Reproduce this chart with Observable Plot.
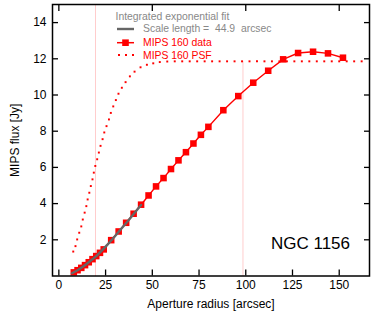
<!DOCTYPE html>
<html><head><meta charset="utf-8">
<script src="https://cdn.jsdelivr.net/npm/d3@7"></script>
<script src="https://cdn.jsdelivr.net/npm/@observablehq/plot@0.6"></script>
<style>
body{margin:0;background:#fff}
#chart svg{display:block}
</style>
</head><body><div id="chart"></div>
<script>
// MIPS 160 aperture photometry (arcsec, Jy)
const dataRadius = [8,10,12,14,16,18,20,22,24,28,32,36,40,44,48,52,56,60,64,68,72,76,80,88,96,104,112,120,128,136,144,152];
const dataFlux   = [0.20,0.32,0.45,0.60,0.76,0.93,1.10,1.28,1.47,1.98,2.46,2.94,3.44,3.94,4.45,4.95,5.41,5.91,6.39,6.84,7.32,7.80,8.24,9.16,9.94,10.68,11.34,11.97,12.32,12.39,12.30,12.06];
// Integrated exponential fit
const fitRadius = [7,10,13,16,20,25,30,35,40,44];
const fitFlux   = [0.15,0.32,0.52,0.76,1.10,1.62,2.20,2.80,3.42,3.92];
// MIPS 160 PSF (dotted curve, dots as seen)
const psfRadius = [7.7,8.9,9.8,10.9,12.0,12.8,13.8,14.7,15.4,16.3,17.1,18.0,18.7,19.5,20.5,21.4,22.3,23.4,24.3,25.5,26.8,27.8,29.1,30.5,31.9,33.7,35.7,38.0,40.5,43.7,47.1,50.5,54,58,62,66,70,74,78,82,86,90,94,98,102,106,110,114,118,122,126,130,134,138,142,146,150,154,158,162];
const psfFlux   = [1.35,1.65,2.02,2.39,2.74,3.12,3.50,3.86,4.23,4.60,4.97,5.34,5.71,6.08,6.45,6.82,7.19,7.56,7.93,8.28,8.65,9.01,9.37,9.72,10.07,10.40,10.71,11.03,11.29,11.53,11.67,11.75,11.82,11.85,11.86,11.86,11.86,11.86,11.86,11.86,11.86,11.86,11.86,11.86,11.86,11.86,11.86,11.86,11.86,11.86,11.86,11.86,11.86,11.86,11.86,11.86,11.86,11.86,11.86,11.86];
// Reference radii (vertical dotted lines) and their upper ends
const markerRadius = [19.6, 98.5];
const markerTop    = [15, 11.86];
// Axes
const xTicks    = [0,25,50,75,100,125,150];
const xTopTicks = [0,50,100,150];
const yTicks    = [2,4,6,8,10,12,14];
const xLabel = "Aperture radius [arcsec]";
const yLabel = "MIPS flux [Jy]";
const galaxyName = "NGC 1156";
const legendTitle = "Integrated exponential fit";
const legendFit = "Scale length =  44.9  arcsec";
const legendData = "MIPS 160 data";
const legendPsf = "MIPS 160 PSF";

const data = dataRadius.map((r, i) => ({r, f: dataFlux[i]}));
const fit = fitRadius.map((r, i) => ({r, f: fitFlux[i]}));
const psf = psfRadius.map((r, i) => ({r, f: psfFlux[i]}));
const markers = markerRadius.map((r, i) => ({r, top: markerTop[i]}));

const RED = "#ff0000";
const FONT = "'Liberation Sans', Arial, Helvetica, sans-serif";

const chart = Plot.plot({
  width: 374, height: 313,
  marginLeft: 52, marginRight: 5, marginTop: 4, marginBottom: 37.5,
  style: {fontFamily: FONT, fontSize: "12px", color: "#000", background: "#fff"},
  x: {domain: [-3.4, 166.2]},
  y: {domain: [0, 15]},
  marks: [
    Plot.ruleX(markers, {x: "r", y1: 0, y2: "top", stroke: "#ff9a9a", strokeWidth: 1, strokeDasharray: "1,1"}),
    Plot.dot(psf, {x: "r", y: "f", symbol: "square", r: 1.1, fill: RED, stroke: "none"}),
    Plot.line(data, {x: "r", y: "f", stroke: RED, strokeWidth: 1.4}),
    Plot.dot(data, {x: "r", y: "f", symbol: "square", r: 3.7, fill: RED, stroke: "none"}),
    Plot.line(fit, {x: "r", y: "f", stroke: "#666666", strokeWidth: 2.4, curve: "monotone-x"}),
    Plot.axisX({ticks: xTicks, tickSize: 0, tickPadding: 4, label: xLabel, labelAnchor: "center", labelOffset: 32, labelArrow: "none"}),
    Plot.axisX({ticks: xTicks, tickSize: -6, tickFormat: () => "", label: null, strokeWidth: 1.3}),
    Plot.axisX({anchor: "top", ticks: xTopTicks, tickSize: -6, tickFormat: () => "", label: null, strokeWidth: 1.3}),
    Plot.axisY({ticks: yTicks, tickSize: 0, tickPadding: 6, label: yLabel, labelAnchor: "center", labelOffset: 42, labelArrow: "none"}),
    Plot.axisY({ticks: yTicks, tickSize: -6, tickFormat: () => "", label: null, strokeWidth: 1.3}),
    Plot.axisY({anchor: "right", ticks: yTicks, tickSize: -6, tickFormat: () => "", label: null, strokeWidth: 1.3}),
    Plot.frame({stroke: "#000", strokeWidth: 1.5})
  ]
});

// In-plot legend and galaxy name
const svg = d3.select(chart);
const g = svg.append("g").attr("font-family", FONT).attr("font-size", 10.4).attr("text-anchor", "start");
g.append("text").attr("x", 115.5).attr("y", 19.5).attr("fill", "#888").text(legendTitle);
g.append("line").attr("x1", 117).attr("x2", 134).attr("y1", 29).attr("y2", 29).attr("stroke", "#666").attr("stroke-width", 2.4);
g.append("text").attr("x", 143).attr("y", 32).attr("fill", "#888").attr("xml:space", "preserve").style("white-space", "pre").text(legendFit);
g.append("line").attr("x1", 117).attr("x2", 134).attr("y1", 42.7).attr("y2", 42.7).attr("stroke", RED).attr("stroke-width", 1.5);
g.append("rect").attr("x", 122.2).attr("y", 39.4).attr("width", 6.6).attr("height", 6.6).attr("fill", RED);
g.append("text").attr("x", 143).attr("y", 46.2).attr("fill", RED).text(legendData);
[119, 126, 133].forEach(x => g.append("rect").attr("x", x - 1).attr("y", 54).attr("width", 2).attr("height", 2).attr("fill", RED));
g.append("text").attr("x", 143).attr("y", 58.7).attr("fill", RED).text(legendPsf);
svg.append("text").attr("x", 350).attr("y", 248.5).attr("text-anchor", "end").attr("font-family", FONT).attr("font-size", 17).attr("fill", "#000").text(galaxyName);

document.getElementById("chart").appendChild(chart);
</script>
</body></html>
